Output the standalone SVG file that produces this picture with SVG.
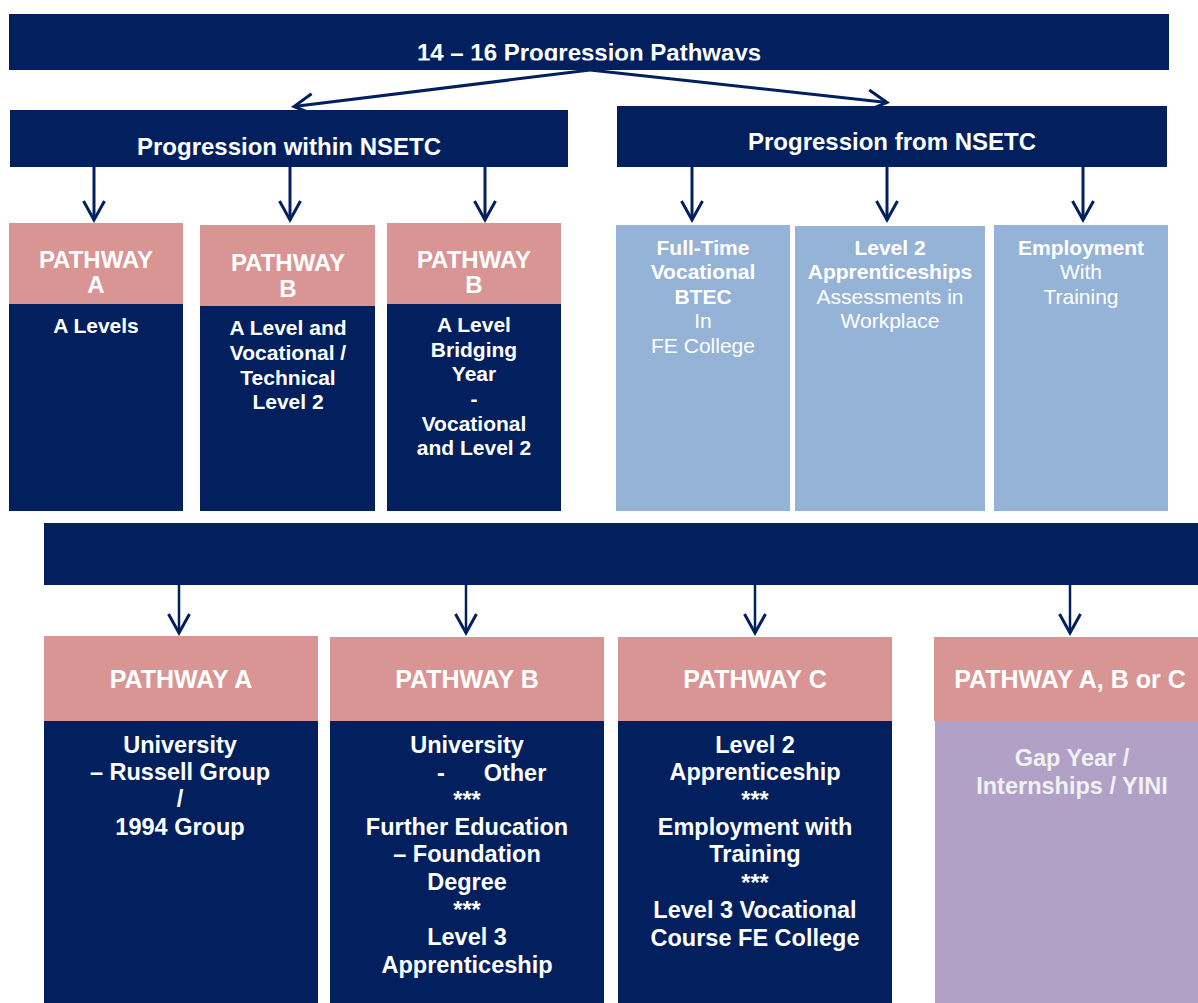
<svg xmlns="http://www.w3.org/2000/svg" width="1198" height="1003" viewBox="0 0 1198 1003">
  <style>
    .navy { fill: #02205E; }
    .pink { fill: #D99594; }
    .blue { fill: #95B3D7; }
    .lilac { fill: #B1A1C6; }
    text { font-family: "Liberation Sans", Arial, sans-serif; fill: #FFFFFF; text-anchor: middle; font-weight: bold; }
    .hd { font-size: 24px; }
    .pw { font-size: 25px; }
    .t1 { font-size: 21px; }
    .t2 { font-size: 23.5px; }
    .reg { font-weight: normal; }
    .soft { fill: #F2F2F2; }
    .conn { stroke: #02205E; fill: none; }
  </style>
  <defs>
    <marker id="head" viewBox="-24 -14 30 28" markerWidth="30" markerHeight="28" refX="0" refY="0" orient="auto" markerUnits="userSpaceOnUse">
      <path d="M-19,-10.5 L0,0 L-19,10.5" fill="none" stroke="#02205E" stroke-width="3"/>
    </marker>
    <clipPath id="titleClip">
      <rect x="9" y="14" width="1160" height="46.5"/>
    </clipPath>
  </defs>

  <!-- top banner -->
  <g id="title">
    <rect class="navy" x="9" y="14" width="1160" height="56"/>
    <text class="hd" x="589" y="61" clip-path="url(#titleClip)">14 – 16 Progression Pathways</text>
  </g>

  <!-- second tier -->
  <g id="within">
    <rect class="navy" x="10" y="110" width="558" height="57"/>
    <text class="hd" x="289" y="155">Progression within NSETC</text>
  </g>
  <g id="from">
    <rect class="navy" x="617" y="106" width="550" height="61"/>
    <text class="hd" x="892" y="150">Progression from NSETC</text>
  </g>

  <!-- pathways within the centre -->
  <g id="row1-a">
    <rect class="pink" x="9" y="223" width="174" height="81"/>
    <rect class="navy" x="9" y="304" width="174" height="207"/>
    <text class="hd" x="96" y="268">PATHWAY</text>
    <text class="hd" x="96" y="293">A</text>
    <text class="t1" x="96" y="333">A Levels</text>
  </g>
  <g id="row1-b">
    <rect class="pink" x="200" y="225" width="175" height="81"/>
    <rect class="navy" x="200" y="306" width="175" height="205"/>
    <text class="hd" x="288" y="271">PATHWAY</text>
    <text class="hd" x="288" y="297">B</text>
    <text class="t1" x="288" y="335">A Level and</text>
    <text class="t1" x="288" y="360">Vocational /</text>
    <text class="t1" x="288" y="385">Technical</text>
    <text class="t1" x="288" y="409">Level 2</text>
  </g>
  <g id="row1-b2">
    <rect class="pink" x="387" y="223" width="174" height="81"/>
    <rect class="navy" x="387" y="304" width="174" height="207"/>
    <text class="hd" x="474" y="268">PATHWAY</text>
    <text class="hd" x="474" y="293">B</text>
    <text class="t1" x="474" y="332">A Level</text>
    <text class="t1" x="474" y="357">Bridging</text>
    <text class="t1" x="474" y="381">Year</text>
    <text class="t1" x="474" y="406">-</text>
    <text class="t1" x="474" y="431">Vocational</text>
    <text class="t1" x="474" y="455">and Level 2</text>
  </g>

  <!-- routes out of the centre -->
  <g id="row1-btec">
    <rect class="blue" x="616" y="225" width="174" height="286"/>
    <text class="t1" x="703" y="255">Full-Time</text>
    <text class="t1" x="703" y="279">Vocational</text>
    <text class="t1" x="703" y="304">BTEC</text>
    <text class="t1 reg" x="703" y="328">In</text>
    <text class="t1 reg" x="703" y="353">FE College</text>
  </g>
  <g id="row1-appr">
    <rect class="blue" x="795" y="226" width="190" height="285"/>
    <text class="t1" x="890" y="255">Level 2</text>
    <text class="t1" x="890" y="279">Apprenticeships</text>
    <text class="t1 reg" x="890" y="304">Assessments in</text>
    <text class="t1 reg" x="890" y="328">Workplace</text>
  </g>
  <g id="row1-emp">
    <rect class="blue" x="994" y="225" width="174" height="286"/>
    <text class="t1" x="1081" y="255">Employment</text>
    <text class="t1 reg" x="1081" y="279">With</text>
    <text class="t1 reg" x="1081" y="304">Training</text>
  </g>

  <!-- post-16 banner -->
  <g id="banner">
    <rect class="navy" x="44" y="523" width="1154" height="62"/>
  </g>

  <!-- post-16 destinations -->
  <g id="dest-a">
    <rect class="pink" x="44" y="636" width="274" height="85"/>
    <rect class="navy" x="44" y="721" width="274" height="282"/>
    <text class="pw" x="181" y="688">PATHWAY A</text>
    <text class="t2" x="180" y="753">University</text>
    <text class="t2" x="180" y="780">– Russell Group</text>
    <text class="t2" x="180" y="807">/</text>
    <text class="t2" x="180" y="835">1994 Group</text>
  </g>
  <g id="dest-b">
    <rect class="pink" x="330" y="637" width="274" height="84"/>
    <rect class="navy" x="330" y="721" width="274" height="282"/>
    <text class="pw" x="467" y="688">PATHWAY B</text>
    <text class="t2" x="467" y="753">University</text>
    <text class="t2"><tspan x="441" y="781">-</tspan><tspan x="515" y="781">Other</tspan></text>
    <text class="t2" x="467" y="808">***</text>
    <text class="t2" x="467" y="835">Further Education</text>
    <text class="t2" x="467" y="862">– Foundation</text>
    <text class="t2" x="467" y="890">Degree</text>
    <text class="t2" x="467" y="918">***</text>
    <text class="t2" x="467" y="945">Level 3</text>
    <text class="t2" x="467" y="973">Apprenticeship</text>
  </g>
  <g id="dest-c">
    <rect class="pink" x="618" y="637" width="274" height="84"/>
    <rect class="navy" x="618" y="721" width="274" height="282"/>
    <text class="pw" x="755" y="688">PATHWAY C</text>
    <text class="t2" x="755" y="753">Level 2</text>
    <text class="t2" x="755" y="780">Apprenticeship</text>
    <text class="t2" x="755" y="808">***</text>
    <text class="t2" x="755" y="835">Employment with</text>
    <text class="t2" x="755" y="862">Training</text>
    <text class="t2" x="755" y="891">***</text>
    <text class="t2" x="755" y="918">Level 3 Vocational</text>
    <text class="t2" x="755" y="946">Course FE College</text>
  </g>
  <g id="dest-any">
    <rect class="pink" x="934" y="637" width="264" height="84"/>
    <rect class="lilac" x="935" y="721" width="263" height="282"/>
    <text class="pw" x="1070" y="688">PATHWAY A, B or C</text>
    <text class="t2 soft" x="1072" y="766">Gap Year /</text>
    <text class="t2 soft" x="1072" y="794">Internships / YINI</text>
  </g>

  <!-- connectors -->
  <g id="connectors" class="conn" marker-end="url(#head)">
    <line x1="590" y1="70" x2="294" y2="106.5" stroke-width="3"/>
    <line x1="590" y1="70" x2="887" y2="102.5" stroke-width="3"/>
    <line x1="94" y1="167" x2="94" y2="220" stroke-width="3"/>
    <line x1="290" y1="167" x2="290" y2="220" stroke-width="3"/>
    <line x1="485" y1="167" x2="485" y2="220" stroke-width="3"/>
    <line x1="692" y1="167" x2="692" y2="220" stroke-width="3"/>
    <line x1="887" y1="167" x2="887" y2="220" stroke-width="3"/>
    <line x1="1083" y1="167" x2="1083" y2="220" stroke-width="3"/>
    <line x1="179" y1="585" x2="179" y2="633" stroke-width="2.5"/>
    <line x1="466" y1="585" x2="466" y2="633" stroke-width="2.5"/>
    <line x1="755" y1="585" x2="755" y2="633" stroke-width="2.5"/>
    <line x1="1070" y1="585" x2="1070" y2="633" stroke-width="2.5"/>
  </g>
</svg>
